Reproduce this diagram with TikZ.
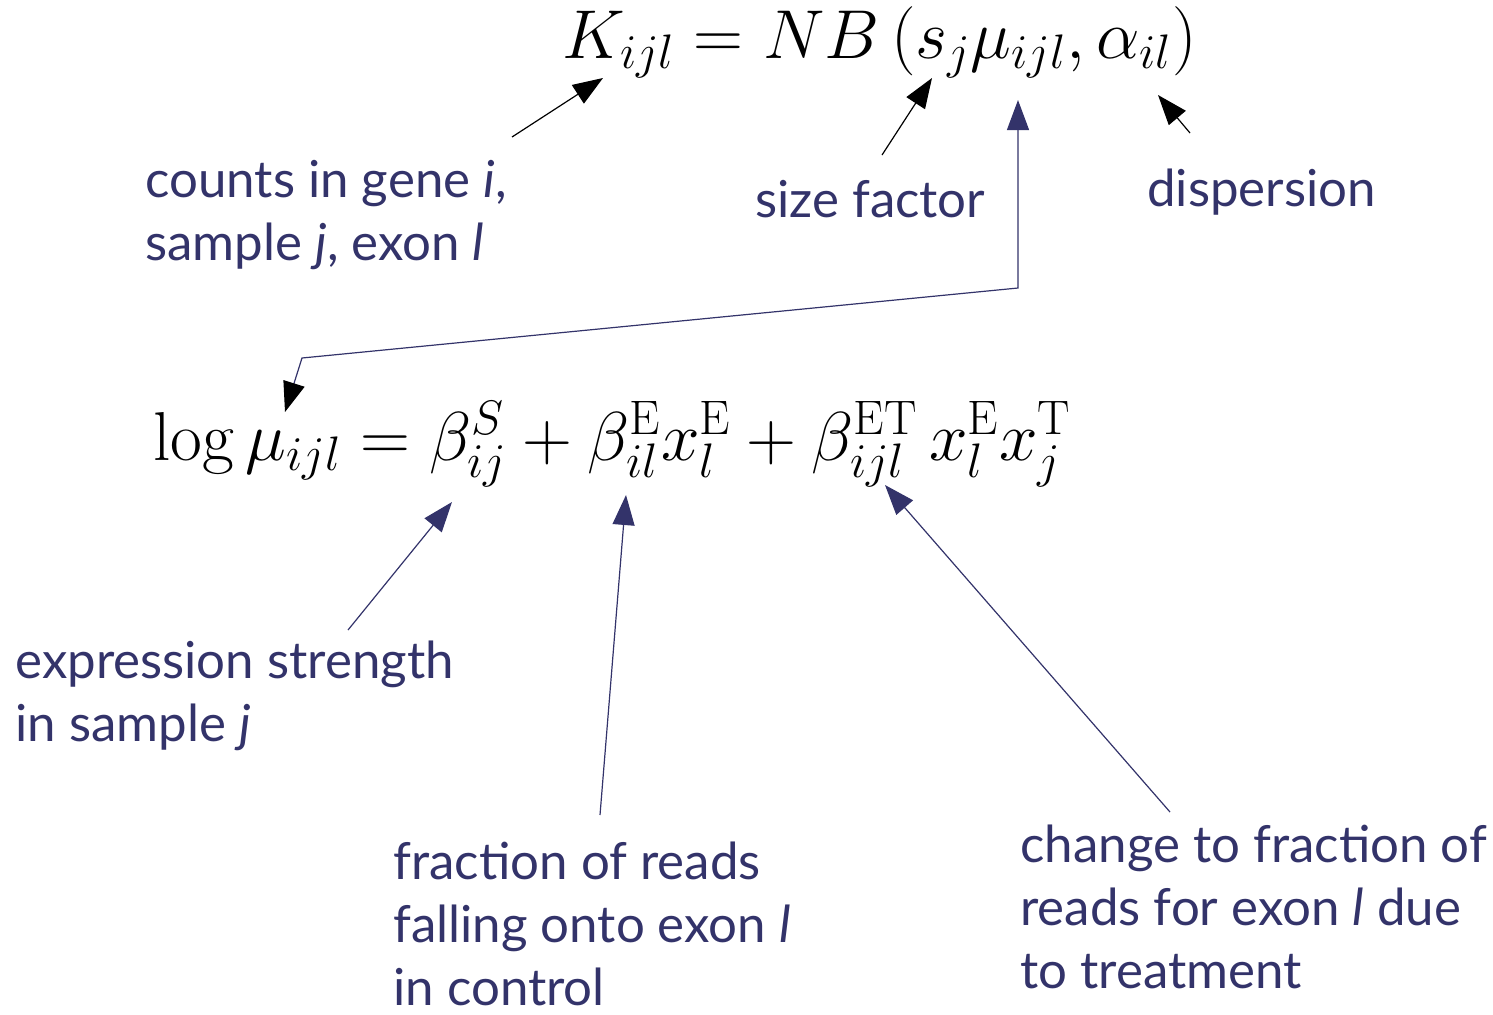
\RequirePackage{fix-cm}
\documentclass[tikz,border=0pt]{standalone}
\usepackage{fontspec}
\usepackage{amsmath}
\newfontfamily\lab{Lato}
\usetikzlibrary{arrows.meta}
\definecolor{navy}{HTML}{33336A}
\begin{document}
\begin{tikzpicture}[x=0.5pt,y=-0.5pt,
  lbl/.style={inner sep=0pt, anchor=base west, align=left, text=navy, font=\lab\fontsize{25.5}{31.5}\selectfont},
  eq/.style={inner sep=0pt, anchor=base west, font=\fontsize{34.6}{40}\selectfont},
  blk/.style={line width=0.6pt, black, -{Triangle[length=15pt,width=11pt]}},
  nvy/.style={line width=0.6pt, navy, -{Triangle[length=15pt,width=11pt]}}]
\useasboundingbox (0,0) rectangle (1493,1014);
% formulas
\node[eq] (top) at (562,58) {$K_{ijl} = NB\left(s_j\mu_{ijl},\alpha_{il}\right)$};
\node[eq] (bot) at (153,460) {$\log\mu_{ijl} = \beta^{S}_{ij} + \beta^{\mathrm{E}}_{il}x^{\mathrm{E}}_{l} + \beta^{\mathrm{ET}}_{ijl}\,x^{\mathrm{E}}_{l}x^{\mathrm{T}}_{j}$};
% labels (base anchor = last line)
\node[lbl] (counts) at (145,260) {counts in gene \textit{i},\\sample \textit{j}, exon \textit{l}};
\node[lbl] (size) at (755,217) {size factor};
\node[lbl] (disp) at (1147,206) {dispersion};
\node[lbl] (expr) at (15,741) {expression strength\\in sample \textit{j}};
\node[lbl] (frac) at (393,1005) {fraction of reads\\falling onto exon \textit{l}\\in control};
\node[lbl] (chg) at (1020,988) {change to fraction of\\reads for exon \textit{l} due\\to treatment};
% anchor points
\coordinate (cS) at (512,137); \coordinate (cE) at (603,78);
\coordinate (sS) at (882,155); \coordinate (sE) at (932,78);
\coordinate (dS) at (1190,133); \coordinate (dE) at (1158,95);
\coordinate (mTop) at (1018,100); \coordinate (mK) at (1018,288);
\coordinate (mL) at (302,358); \coordinate (mBot) at (285,412);
\coordinate (eS) at (348,630); \coordinate (eE) at (452,502);
\coordinate (fS) at (600,815); \coordinate (fE) at (626,495);
\coordinate (tS) at (1170,812); \coordinate (tE) at (885,485);
% connectors
\draw[blk] (cS) -- (cE);
\draw[blk] (sS) -- (sE);
\draw[blk] (dS) -- (dE);
\draw[line width=0.6pt, navy, {Triangle[length=15pt,width=11pt,color=navy]}-{Triangle[length=15pt,width=11pt,color=black]}] (mTop) -- (mK) -- (mL) -- (mBot);
\draw[nvy] (eS) -- (eE);
\draw[nvy] (fS) -- (fE);
\draw[nvy] (tS) -- (tE);
\end{tikzpicture}
\end{document}
